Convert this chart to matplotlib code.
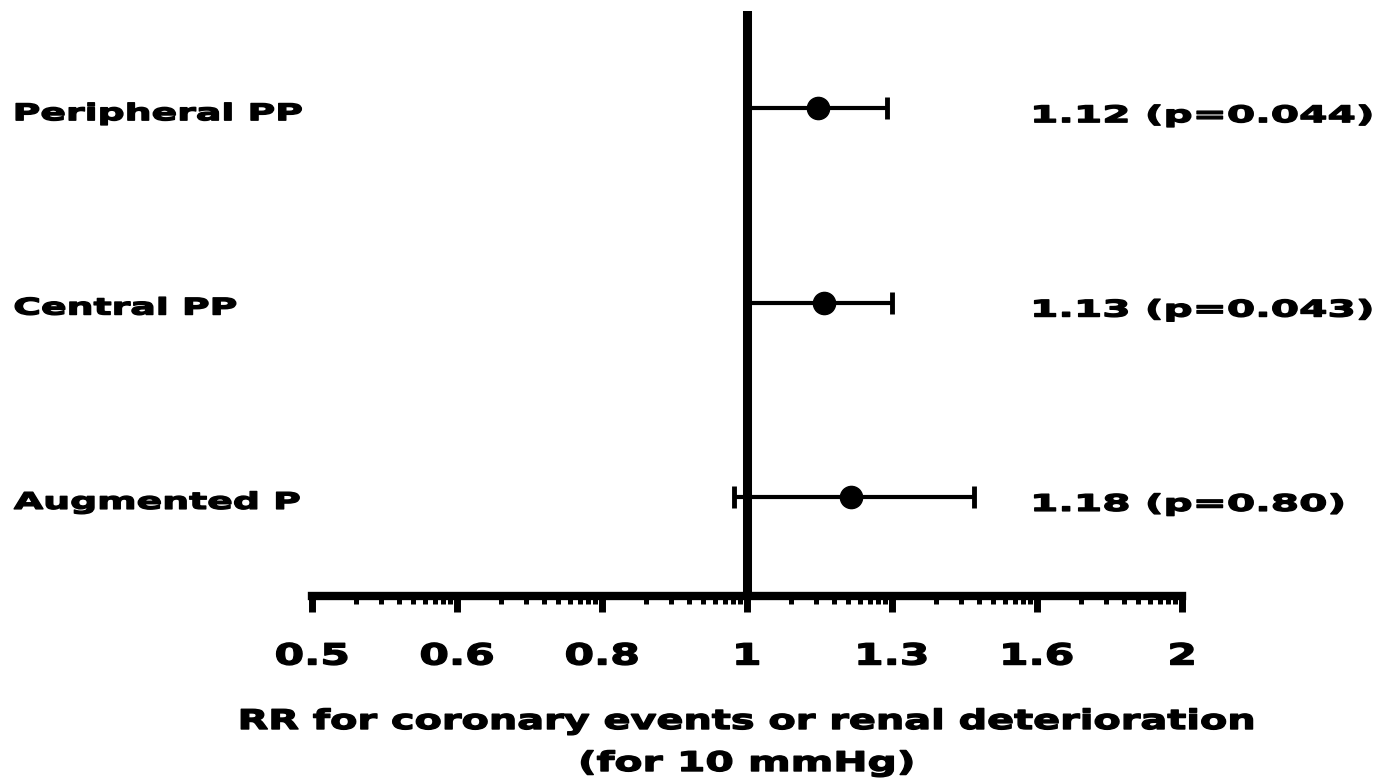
import numpy as np
import matplotlib
matplotlib.use("Agg")
import matplotlib.pyplot as plt
from matplotlib.ticker import FixedLocator, FixedFormatter
from matplotlib.patheffects import AbstractPathEffect
from matplotlib.transforms import Affine2D, ScaledTranslation, blended_transform_factory

# Relative risk per 10 mmHg with 95% CI
measures = ["Peripheral PP", "Central PP", "Augmented P"]
rr = [1.12, 1.13, 1.18]
ci_low = [1.00, 1.00, 0.98]
ci_high = [1.25, 1.26, 1.435]
value_labels = ["1.12 (p=0.044)", "1.13 (p=0.043)", "1.18 (p=0.80)"]

tick_labels = ["0.5", "0.6", "0.8", "1", "1.3", "1.6", "2"]


class WideText(AbstractPathEffect):
    """Stretch glyph outlines horizontally (and embolden slightly) to mimic an extended heavy face."""

    def __init__(self, sx, anchor="left", stroke=1.0):
        super().__init__()
        self.sx = sx
        self.anchor = anchor
        self.stroke = stroke

    def draw_path(self, renderer, gc, tpath, affine, rgbFace=None):
        ext = tpath.get_extents()
        ox = ext.x0 if self.anchor == "left" else 0.5 * (ext.x0 + ext.x1)
        stretch = Affine2D().translate(-ox, 0).scale(self.sx, 1).translate(ox, 0)
        gc0 = renderer.new_gc()
        gc0.copy_properties(gc)
        gc0.set_linewidth(self.stroke)
        gc0.set_foreground(rgbFace if rgbFace is not None else "black")
        gc0.set_joinstyle("round")
        renderer.draw_path(gc0, tpath, stretch + affine, rgbFace)
        gc0.restore()


plt.rcParams["font.family"] = ["DejaVu Sans"]
plt.rcParams["font.weight"] = "bold"

fig = plt.figure(figsize=(13.88, 7.79), dpi=100)
ax = fig.add_axes([312 / 1388, 1 - 596 / 779, 870 / 1388, 585 / 779])

ypos = np.arange(len(measures), 0, -1)
rr_a = np.array(rr)
err = np.vstack([rr_a - np.array(ci_low), np.array(ci_high) - rr_a])

ax.errorbar(rr_a, ypos, xerr=err, fmt="o", color="black", ms=16,
            elinewidth=3, capsize=8, capthick=3.5, zorder=3)
ax.axvline(1.0, color="black", lw=6.5, zorder=2)

ax.set_xscale("log", base=2)
ax.set_xlim(0.5, 2.0)
ax.set_ylim(0.49, 3.5)

# Major ticks every third of a doubling; minor ticks follow a decade pattern inside each interval
majors = 2.0 ** (np.arange(-3, 4) / 3.0)
ax.xaxis.set_major_locator(FixedLocator(majors))
ax.xaxis.set_major_formatter(FixedFormatter(tick_labels))
minor = []
for j in range(-3, 3):
    for k in range(2, 10):
        minor.append(2.0 ** ((j + np.log10(k)) / 3.0))
ax.xaxis.set_minor_locator(FixedLocator(minor))
ax.xaxis.set_minor_formatter(FixedFormatter([""] * len(minor)))

ax.tick_params(axis="x", which="major", length=11.5, width=5, pad=22,
               labelsize=21, direction="out")
ax.tick_params(axis="x", which="minor", length=5.8, width=3.6, direction="out")
for lab in ax.get_xticklabels():
    lab.set_fontweight("bold")
    lab.set_path_effects([WideText(1.46, "center")])

ax.set_yticks([])
for side in ["left", "right", "top"]:
    ax.spines[side].set_visible(False)
ax.spines["bottom"].set_linewidth(6)

trans_left = blended_transform_factory(fig.transFigure, ax.transData)
name_shift = ScaledTranslation(0, -12 / 100, fig.dpi_scale_trans)
value_shift = ScaledTranslation(0, -14 / 100, fig.dpi_scale_trans)
for y, name, val in zip(ypos, measures, value_labels):
    ax.text(14 / 1388, y, name, transform=trans_left + name_shift,
            ha="left", va="baseline", fontsize=16.5, fontweight="bold",
            path_effects=[WideText(1.65)])
    ax.text(1032 / 1388, y, val, transform=trans_left + value_shift,
            ha="left", va="baseline", fontsize=16.5, fontweight="bold",
            path_effects=[WideText(1.78)])

xc = 0.5 * (312 + 1182) / 1388
fig.text(xc, 1 - 729 / 779, "RR for coronary events or renal deterioration",
         ha="center", va="baseline", fontsize=19.5, fontweight="bold",
         path_effects=[WideText(1.47, "center")])
fig.text(xc, 1 - 771 / 779, "(for 10 mmHg)",
         ha="center", va="baseline", fontsize=19.5, fontweight="bold",
         path_effects=[WideText(1.51, "center")])

fig.savefig("out.png", dpi=100)
